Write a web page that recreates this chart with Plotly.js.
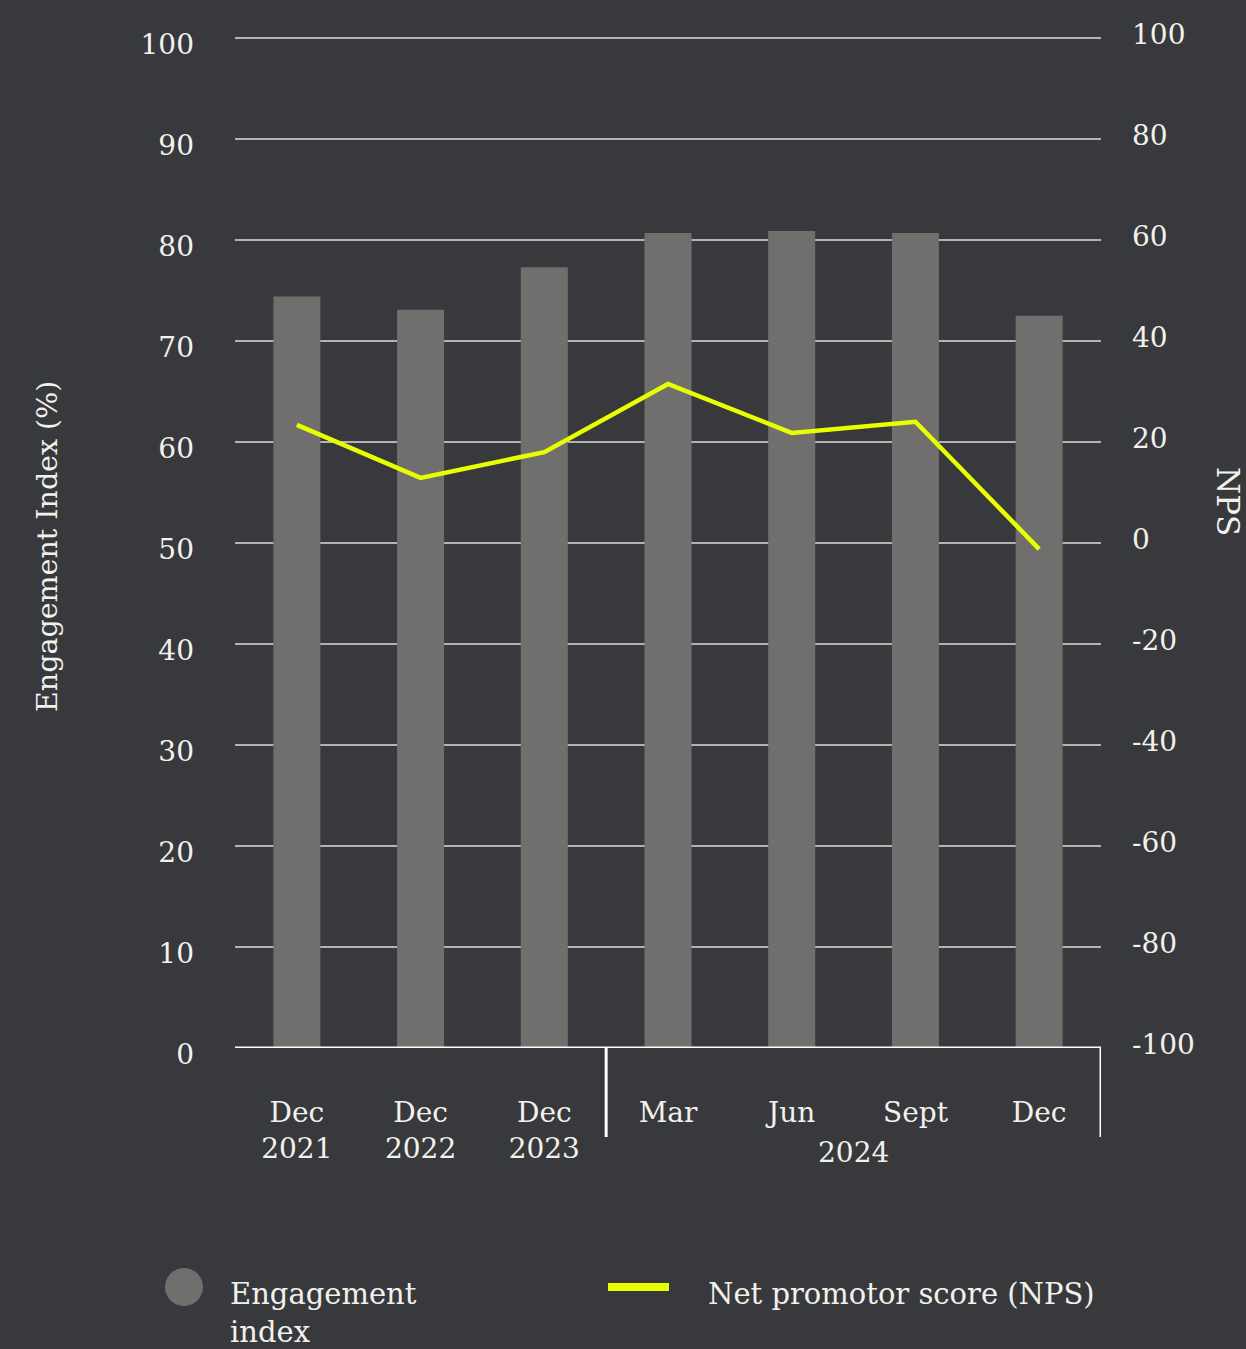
<!DOCTYPE html>
<html>
<head>
<meta charset="utf-8">
<script src="https://cdn.plot.ly/plotly-3.0.1.min.js"></script>
<style>
html,body{margin:0;padding:0;background:#38393d;}
#chart{width:1246px;height:1349px;}
</style>
</head>
<body>
<div id="chart"></div>
<script>
const categories = ["Dec 2021", "Dec 2022", "Dec 2023", "Mar 2024", "Jun 2024", "Sept 2024", "Dec 2024"];
const tickLabels = ["Dec<br>2021", "Dec<br>2022", "Dec<br>2023", "Mar", "Jun", "Sept", "Dec"];
const engagement = [74.4, 73.1, 77.3, 80.7, 80.9, 80.7, 72.5];
const nps = [23.4, 12.9, 18.0, 31.5, 21.8, 24.0, -1.2];
const groupLabel = "2024";
const leftTickVals = [0, 10, 20, 30, 40, 50, 60, 70, 80, 90, 100];
const rightTickVals = [-100, -80, -60, -40, -20, 0, 20, 40, 60, 80, 100];
const rightTickText = ["-100", "-80", "-60", "-40", "-20", "0", "20", "40", "60", "80", "100"];

const FONT = "DejaVu Serif, Liberation Serif, serif";
const TXT = "#f2f1ec";
const BG = "#38393d";
const GRID = "#b3b3b3";

const traces = [
  {
    type: "bar", x: categories, y: engagement, yaxis: "y",
    marker: {color: "#706f6d"}, width: 0.38, showlegend: false, hoverinfo: "skip"
  },
  {
    type: "scatter", mode: "lines", x: categories, y: nps, yaxis: "y2",
    line: {color: "#e8ff00", width: 4.5}, showlegend: false, hoverinfo: "skip"
  }
];

const W = 866, H = 1010, L = 235, T = 38;
const px = v => (v - L) / W;
const py = v => (T + H - v) / H;

const layout = {
  width: 1246, height: 1349,
  paper_bgcolor: BG, plot_bgcolor: BG,
  margin: {l: 235, r: 145, t: 38, b: 301},
  font: {family: FONT, size: 28, color: TXT},
  showlegend: false,
  xaxis: {
    type: "category",
    tickmode: "array", tickvals: categories, ticktext: tickLabels,
    showgrid: false, showline: false, zeroline: false,
    ticks: "", ticklabelstandoff: 45,
    tickfont: {family: FONT, size: 28, color: TXT},
    range: [-0.5, 6.5], fixedrange: true
  },
  yaxis: {
    range: [0, 100], tickmode: "array", tickvals: leftTickVals,
    showgrid: true, gridcolor: GRID, gridwidth: 2,
    zeroline: false, showline: false, ticks: "",
    ticklabelstandoff: 40, ticklabelshift: 6,
    tickfont: {family: FONT, size: 28, color: TXT}
  },
  yaxis2: {
    range: [-100, 100], tickmode: "array", tickvals: rightTickVals, ticktext: rightTickText,
    overlaying: "y", side: "right",
    showgrid: false, zeroline: false, showline: false, ticks: "",
    ticklabelstandoff: 30, ticklabelshift: -4,
    tickfont: {family: FONT, size: 28, color: TXT}
  },
  shapes: [
    {type: "line", xref: "paper", yref: "paper", x0: 0, x1: 1, y0: 1, y1: 1, line: {color: GRID, width: 2}},
    {type: "line", xref: "paper", yref: "y", x0: 0, x1: 1, y0: 0, y1: 0, line: {color: "#ffffff", width: 3}},
    {type: "line", xref: "x", yref: "paper", x0: 2.5, x1: 2.5, y0: 0, y1: py(1137), line: {color: "#ffffff", width: 3}},
    {type: "line", xref: "x", yref: "paper", x0: 6.5, x1: 6.5, y0: 0, y1: py(1137), line: {color: "#ffffff", width: 3}},
    {type: "circle", xref: "paper", yref: "paper", x0: px(165), x1: px(203), y0: py(1306), y1: py(1268),
      fillcolor: "#706f6d", line: {width: 0}},
    {type: "line", xref: "paper", yref: "paper", x0: px(608), x1: px(669), y0: py(1287), y1: py(1287),
      line: {color: "#e8ff00", width: 8}}
  ],
  annotations: [
    {text: groupLabel, xref: "x", yref: "paper", x: 4.5, y: py(1152), xanchor: "center", yanchor: "middle",
      showarrow: false, font: {family: FONT, size: 28, color: TXT}},
    {text: "Engagement Index (%)", xref: "paper", yref: "paper", x: px(47), y: py(547), textangle: -90,
      xanchor: "center", yanchor: "middle", showarrow: false, font: {family: FONT, size: 28.5, color: TXT}},
    {text: "NPS", xref: "paper", yref: "paper", x: px(1228), y: py(501), textangle: 90,
      xanchor: "center", yanchor: "middle", showarrow: false, font: {family: FONT, size: 31, color: TXT}},
    {text: "Engagement<br>index", xref: "paper", yref: "paper", x: px(228), y: py(1313), align: "left",
      xanchor: "left", yanchor: "middle", showarrow: false, font: {family: FONT, size: 29, color: TXT}},
    {text: "Net promotor score (NPS)", xref: "paper", yref: "paper", x: px(706), y: py(1294),
      xanchor: "left", yanchor: "middle", showarrow: false, font: {family: FONT, size: 29, color: TXT}}
  ]
};

Plotly.newPlot("chart", traces, layout, {staticPlot: true, displayModeBar: false});
</script>
</body>
</html>
